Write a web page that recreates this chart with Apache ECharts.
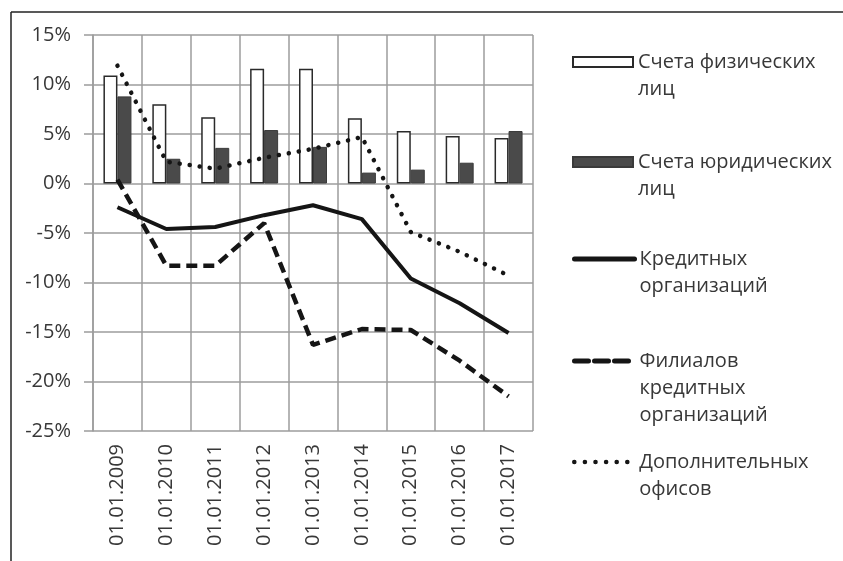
<!DOCTYPE html>
<html>
<head>
<meta charset="utf-8">
<script src="https://cdn.jsdelivr.net/npm/echarts@6/dist/echarts.min.js"></script>
<style>
html,body{margin:0;padding:0;background:#fff;}
#chart{width:843px;height:561px;}
</style>
</head>
<body>
<div id="chart"></div>
<script>
const categories = ['01.01.2009','01.01.2010','01.01.2011','01.01.2012','01.01.2013','01.01.2014','01.01.2015','01.01.2016','01.01.2017'];
const yTicks = {min: -25, max: 15, interval: 5};
const seriesNames = ['Счета физических\nлиц','Счета юридических\nлиц','Кредитных\nорганизаций','Филиалов\nкредитных\nорганизаций','Дополнительных\nофисов'];
const individualAccounts = [10.9, 8.0, 6.7, 11.6, 11.6, 6.6, 5.3, 4.8, 4.6];
const legalAccounts = [8.8, 2.5, 3.6, 5.4, 3.7, 1.1, 1.4, 2.1, 5.3];
const creditOrgs = [-2.4, -4.6, -4.4, -3.2, -2.2, -3.6, -9.6, -12.1, -15.1];
const branches = [0.4, -8.3, -8.3, -4.0, -16.3, -14.7, -14.8, -17.9, -21.5];
const extraOffices = [11.9, 2.2, 1.5, 2.6, 3.5, 4.7, -4.9, -6.9, -9.3];

const FONT = 'Open Sans';
const TXT = '#383838';
const LINE = '#151515';
const GRID = '#9c9c9c';
const LH = 27;

const legendCenters = [62, 162, 259, 361, 462];
const legendLineStyles = [null, null,
  {color: LINE, width: 5, type: 'solid', cap: 'round'},
  {color: LINE, width: 5, type: [14, 6], cap: 'round'},
  {color: LINE, width: 4.5, type: [0.1, 10.5], cap: 'round'}
];
const legends = seriesNames.map((name, i) => {
  const n = name.split('\n').length;
  const lg = {
    data: [name],
    orient: 'vertical',
    left: 572,
    top: legendCenters[i] - LH / 2 - (n - 1) * LH,
    itemWidth: 60,
    itemHeight: i < 2 ? 10 : 14,
    itemGap: 0,
    padding: 0,
    selectedMode: false,
    formatter: (nm) => '\n'.repeat(nm.split('\n').length - 1) + nm,
    textStyle: {fontFamily: FONT, fontSize: 20, color: TXT, lineHeight: LH}
  };
  if (i < 2) {
    lg.icon = 'rect';
  } else {
    lg.itemStyle = {opacity: 0};
    lg.lineStyle = legendLineStyles[i];
  }
  return lg;
});

const chart = echarts.init(document.getElementById('chart'), null, {renderer: 'canvas'});
chart.setOption({
  animation: false,
  backgroundColor: '#fff',
  textStyle: {fontFamily: FONT},
  graphic: [
    {type: 'line', shape: {x1: 11, y1: 12, x2: 843, y2: 12}, style: {stroke: '#222', lineWidth: 1.5}},
    {type: 'line', shape: {x1: 11, y1: 12, x2: 11, y2: 561}, style: {stroke: '#222', lineWidth: 1.5}}
  ],
  legend: legends,
  grid: {left: 93, right: 310, top: 35, bottom: 130, containLabel: false},
  xAxis: {
    type: 'category',
    data: categories,
    boundaryGap: true,
    axisLine: {show: false, onZero: false},
    axisTick: {show: false},
    splitLine: {show: true, interval: 0, lineStyle: {color: GRID, width: 1.5}},
    axisLabel: {rotate: 90, margin: 13, interval: 0, fontFamily: FONT, fontSize: 20, color: TXT}
  },
  yAxis: {
    type: 'value',
    min: yTicks.min, max: yTicks.max, interval: yTicks.interval,
    axisLine: {show: true, lineStyle: {color: GRID, width: 1.5}},
    axisTick: {show: true, length: 9, lineStyle: {color: GRID, width: 1.5}},
    splitLine: {show: true, lineStyle: {color: GRID, width: 1.5}},
    axisLabel: {formatter: '{value}%', margin: 22, fontFamily: FONT, fontSize: 20, color: TXT}
  },
  series: [
    {
      name: seriesNames[0], type: 'bar', data: individualAccounts,
      barWidth: 14, barGap: '0%',
      itemStyle: {color: '#ffffff', borderColor: '#2a2a2a', borderWidth: 1.5}
    },
    {
      name: seriesNames[1], type: 'bar', data: legalAccounts,
      barWidth: 14, barGap: '0%',
      itemStyle: {color: '#4a4a4a', borderColor: '#3a3a3a', borderWidth: 1}
    },
    {
      name: seriesNames[2], type: 'line', data: creditOrgs,
      symbol: 'none', z: 5,
      lineStyle: {color: LINE, width: 4},
      itemStyle: {color: LINE}
    },
    {
      name: seriesNames[3], type: 'line', data: branches,
      symbol: 'none', z: 5,
      lineStyle: {color: LINE, width: 4.5, type: [11, 6]},
      itemStyle: {color: LINE}
    },
    {
      name: seriesNames[4], type: 'line', data: extraOffices,
      symbol: 'none', z: 5,
      lineStyle: {color: LINE, width: 4.5, type: [0.1, 10], cap: 'round'},
      itemStyle: {color: LINE}
    }
  ]
});
</script>
</body>
</html>
